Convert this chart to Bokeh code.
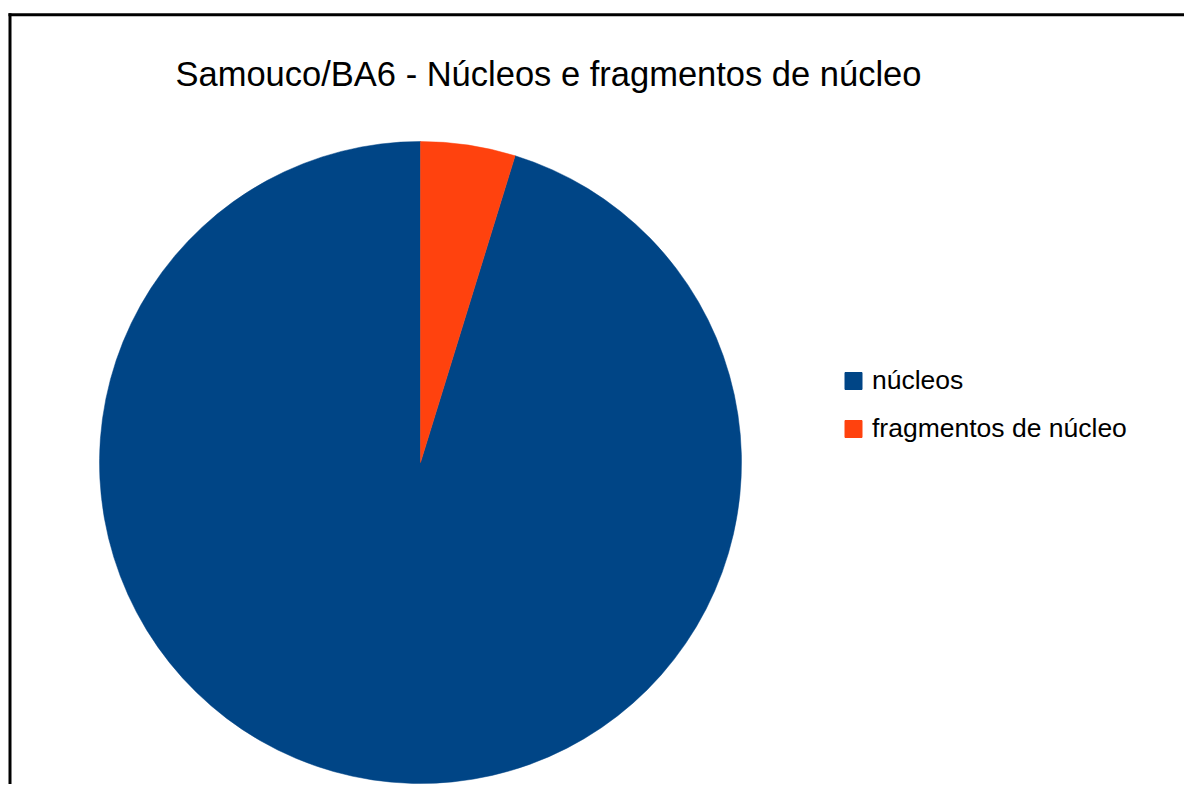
import math
from bokeh.plotting import figure
from bokeh.models import Range1d, ColumnDataSource
from bokeh.core.properties import value
from bokeh.embed import file_html
from bokeh.resources import INLINE

# ---- data ----
title_text = "Samouco/BA6 - Núcleos e fragmentos de núcleo"
categories = ["núcleos", "fragmentos de núcleo"]
counts = [20, 1]
colors = ["#004586", "#ff420e"]

W, H = 1184, 784
p = figure(width=W, height=H, x_range=Range1d(0, W), y_range=Range1d(0, H),
           output_backend="svg", toolbar_location=None, min_border=0,
           background_fill_color="white", border_fill_color="white")
p.axis.visible = False
p.grid.visible = False
p.outline_line_color = None

# border (top + left visible)
p.segment(x0=[8], y0=[769.8], x1=[W], y1=[769.8], line_color="black", line_width=3)
p.segment(x0=[9.5], y0=[0], x1=[9.5], y1=[771.3], line_color="black", line_width=3)

# pie: start at 12 o'clock, counterclockwise
total = sum(counts)
starts, ends = [], []
a = math.pi / 2
for c in counts:
    starts.append(a)
    a += 2 * math.pi * c / total
    ends.append(a)
src = ColumnDataSource(dict(start=starts, end=ends, color=colors, cat=categories))
p.wedge(x=420, y=322, radius=321, start_angle="start", end_angle="end",
        direction="anticlock", fill_color="color", line_color="color",
        line_width=0.5, source=src)

# title
p.text(x=[175], y=[711], text=[title_text], text_font=value("Liberation Sans"),
       text_font_size="34.5px", text_color="black", text_baseline="alphabetic",
       text_align="left")

# legend
lx = [853] * len(categories)
ly = [403.5 - 48 * i for i in range(len(categories))]
p.rect(x=lx, y=ly, width=17, height=17, fill_color=colors, line_color=colors)
p.text(x=[871.5] * len(categories), y=[y + 1.5 for y in ly], text=categories,
       text_font=value("Liberation Sans"), text_font_size="26.5px",
       text_color="black", text_baseline="alphabetic", text_align="left")

open("out.html", "w").write(file_html(p, INLINE))
